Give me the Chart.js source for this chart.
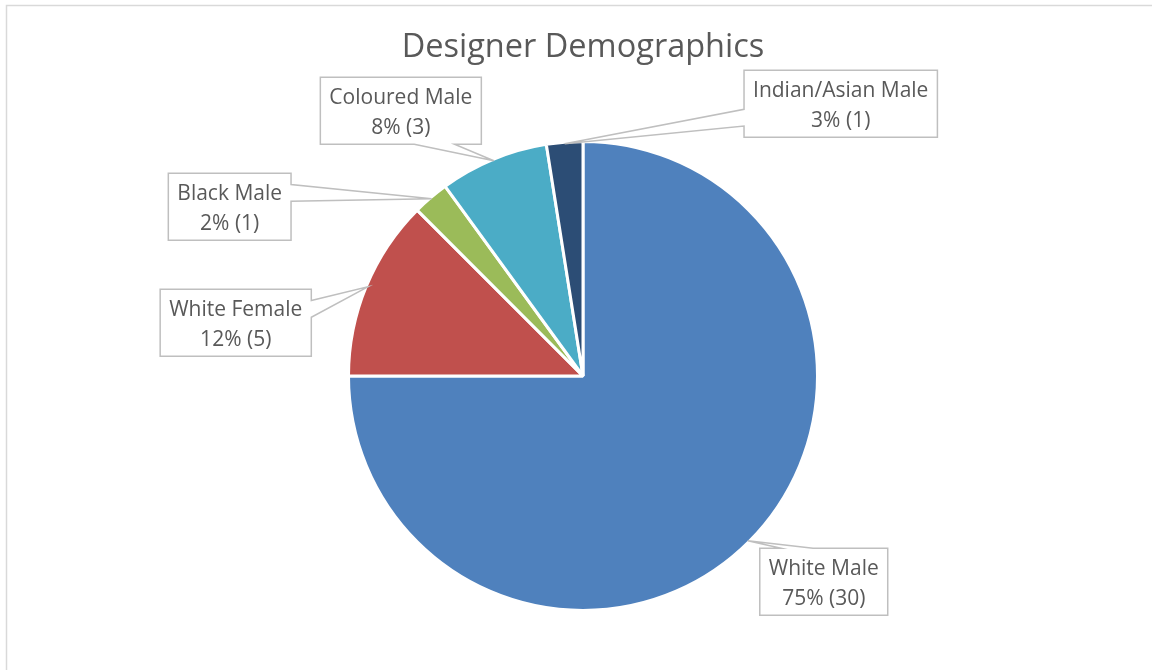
<!DOCTYPE html>
<html>
<head>
<meta charset="utf-8">
<title>Designer Demographics</title>
<script src="https://cdn.jsdelivr.net/npm/chart.js@4/dist/chart.umd.min.js"></script>
<style>
  html, body { margin: 0; padding: 0; background: #ffffff; }
  #wrap { width: 1152px; height: 670px; position: relative; }
  canvas { display: block; }
</style>
</head>
<body>
<div id="wrap"><canvas id="chart" width="1152" height="670"></canvas></div>
<script>
// Survey breakdown of designers
const categories = ['White Male', 'White Female', 'Black Male', 'Coloured Male', 'Indian/Asian Male'];
const counts = [30, 5, 1, 3, 1];
const shareLabels = ['75%', '12%', '2%', '8%', '3%'];
const sliceColors = ['#4F81BD', '#C0504D', '#9BBB59', '#4BACC6', '#2C4D75'];

const chartTitle = 'Designer Demographics';

// Where each callout box sits, relative to the point on the rim it points at
const calloutOffsets = [
  [76, 41],
  [-132, 36],
  [-202, 8],
  [-93, -50],
  [276, -40]
];

const FONT = '"Open Sans", "DejaVu Sans", sans-serif';
const TEXT_COLOR = '#595959';
const LINE_COLOR = '#BFBFBF';
const SLICE_BORDER = 3;

// Light frame along the top and left edges plus the title
const framePlugin = {
  id: 'frame',
  beforeDraw(chart) {
    const ctx = chart.ctx;
    ctx.save();
    ctx.fillStyle = '#ffffff';
    ctx.fillRect(0, 0, chart.width, chart.height);
    ctx.strokeStyle = '#D9D9D9';
    ctx.lineWidth = 1.5;
    ctx.beginPath();
    ctx.moveTo(6.5, chart.height);
    ctx.lineTo(6.5, 5.5);
    ctx.lineTo(chart.width, 5.5);
    ctx.stroke();
    ctx.restore();
  },
  afterDraw(chart) {
    const ctx = chart.ctx;
    const area = chart.chartArea;
    ctx.save();
    ctx.fillStyle = TEXT_COLOR;
    ctx.font = '32.5px ' + FONT;
    ctx.textAlign = 'center';
    ctx.textBaseline = 'alphabetic';
    ctx.fillText(chartTitle, (area.left + area.right) / 2, 57);
    ctx.restore();
  }
};

// Callout boxes with a wedge pointing at each slice
const calloutPlugin = {
  id: 'callouts',
  afterDatasetsDraw(chart) {
    const ctx = chart.ctx;
    const meta = chart.getDatasetMeta(0);
    const ds = chart.data.datasets[0];
    ctx.save();
    ctx.font = '21px ' + FONT;
    meta.data.forEach((arc, i) => {
      const p = arc.getProps(['x', 'y', 'startAngle', 'endAngle', 'outerRadius'], true);
      const mid = (p.startAngle + p.endAngle) / 2;
      const r = p.outerRadius - SLICE_BORDER / 2;
      const tx = p.x + Math.cos(mid) * r;
      const ty = p.y + Math.sin(mid) * r;

      const line1 = chart.data.labels[i];
      const line2 = shareLabels[i] + ' (' + ds.data[i] + ')';
      const w = Math.max(ctx.measureText(line1).width, ctx.measureText(line2).width) + 18;
      const h = 67;
      const cx = tx + calloutOffsets[i][0];
      const cy = ty + calloutOffsets[i][1];
      const L = cx - w / 2, R = cx + w / 2, T = cy - h / 2, B = cy + h / 2;

      // pick the edge facing the tip, then the wedge base on it
      const nx = (tx - cx) / (w / 2);
      const ny = (ty - cy) / (h / 2);
      let edge;
      if (Math.abs(nx) > Math.abs(ny)) edge = nx < 0 ? 'left' : 'right';
      else edge = ny < 0 ? 'top' : 'bottom';
      const along = (a, b, lowSide) => lowSide ? [a + (b - a) / 6, a + (b - a) * 5 / 12]
                                               : [a + (b - a) * 7 / 12, a + (b - a) * 5 / 6];
      ctx.beginPath();
      if (edge === 'top') {
        const [a, b] = along(L, R, tx < cx);
        ctx.moveTo(L, T); ctx.lineTo(a, T); ctx.lineTo(tx, ty); ctx.lineTo(b, T);
        ctx.lineTo(R, T); ctx.lineTo(R, B); ctx.lineTo(L, B); ctx.closePath();
      } else if (edge === 'bottom') {
        const [a, b] = along(L, R, tx < cx);
        ctx.moveTo(L, T); ctx.lineTo(R, T); ctx.lineTo(R, B); ctx.lineTo(b, B);
        ctx.lineTo(tx, ty); ctx.lineTo(a, B); ctx.lineTo(L, B); ctx.closePath();
      } else if (edge === 'right') {
        const [a, b] = along(T, B, ty < cy);
        ctx.moveTo(L, T); ctx.lineTo(R, T); ctx.lineTo(R, a); ctx.lineTo(tx, ty);
        ctx.lineTo(R, b); ctx.lineTo(R, B); ctx.lineTo(L, B); ctx.closePath();
      } else {
        const [a, b] = along(T, B, ty < cy);
        ctx.moveTo(L, T); ctx.lineTo(R, T); ctx.lineTo(R, B); ctx.lineTo(L, B);
        ctx.lineTo(L, b); ctx.lineTo(tx, ty); ctx.lineTo(L, a); ctx.closePath();
      }
      ctx.fillStyle = '#ffffff';
      ctx.fill();
      ctx.strokeStyle = LINE_COLOR;
      ctx.lineWidth = 1.5;
      ctx.lineJoin = 'miter';
      ctx.stroke();

      ctx.fillStyle = TEXT_COLOR;
      ctx.textAlign = 'center';
      ctx.textBaseline = 'alphabetic';
      ctx.fillText(line1, cx, T + 27);
      ctx.fillText(line2, cx, T + 57);
    });
    ctx.restore();
  }
};

new Chart(document.getElementById('chart'), {
  type: 'pie',
  data: {
    labels: categories,
    datasets: [{
      data: counts,
      backgroundColor: sliceColors,
      borderColor: '#ffffff',
      borderWidth: SLICE_BORDER
    }]
  },
  options: {
    responsive: false,
    devicePixelRatio: 1,
    animation: false,
    layout: { padding: { left: 347, right: 333, top: 140, bottom: 58 } },
    plugins: {
      legend: { display: false },
      tooltip: { enabled: false },
      title: { display: false }
    }
  },
  plugins: [framePlugin, calloutPlugin]
});
</script>
</body>
</html>
